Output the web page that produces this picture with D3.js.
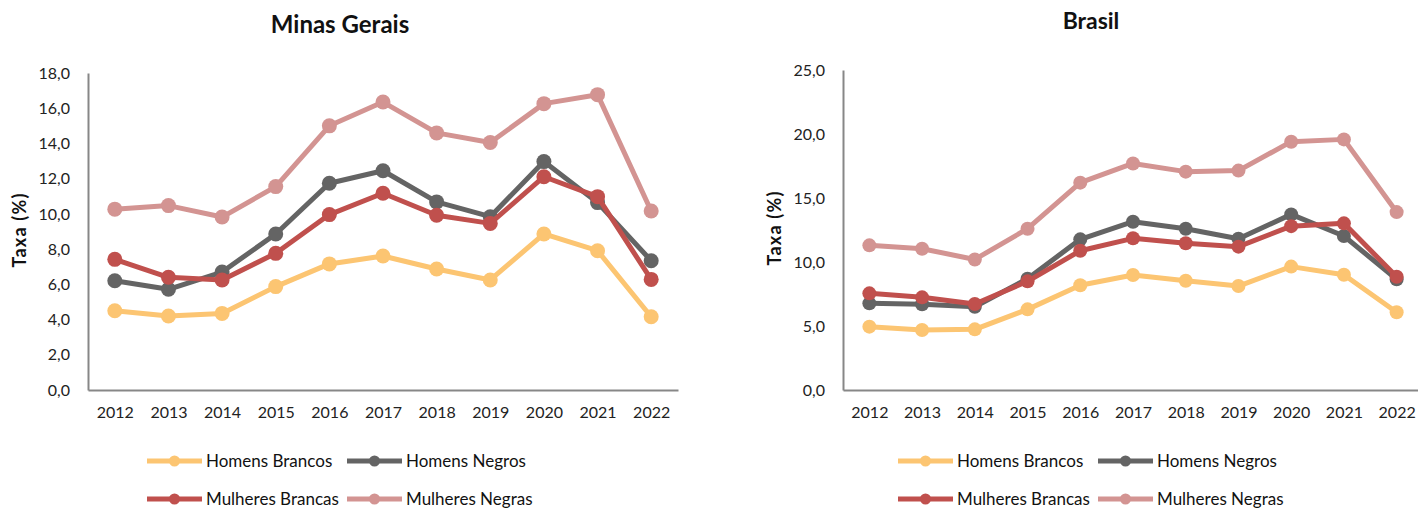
<!DOCTYPE html>
<html>
<head>
<meta charset="utf-8">
<script src="https://cdn.jsdelivr.net/npm/d3@7"></script>
<style>
body{margin:0;background:#fff;font-family:Lato,"Liberation Sans",sans-serif;}
.tick text{font-family:Lato,"Liberation Sans",sans-serif;fill:#222;}
</style>
</head>
<body>
<svg id="chart" width="1418" height="509"></svg>
<script>
//categories and series values
var years = ["2012","2013","2014","2015","2016","2017","2018","2019","2020","2021","2022"];
var seriesNames = ["Homens Brancos","Homens Negros","Mulheres Brancas","Mulheres Negras"];
var seriesColors = ["#fcc572","#646464","#c0504d","#d39492"];

var mgHomensBrancos = [4.5,4.2,4.35,5.87,7.16,7.61,6.87,6.25,8.86,7.91,4.16];
var mgHomensNegros = [6.2,5.72,6.7,8.86,11.74,12.45,10.68,9.84,12.97,10.64,7.34];
var mgMulheresBrancas = [7.42,6.4,6.25,7.76,9.96,11.17,9.92,9.46,12.11,10.98,6.28];
var mgMulheresNegras = [10.27,10.47,9.82,11.55,15.0,16.35,14.6,14.05,16.26,16.77,10.16];

var brHomensBrancos = [4.95,4.69,4.74,6.3,8.18,8.98,8.54,8.12,9.64,9.0,6.07];
var brHomensNegros = [6.77,6.7,6.5,8.7,11.77,13.15,12.6,11.82,13.72,12.03,8.65];
var brMulheresBrancas = [7.55,7.24,6.72,8.49,10.88,11.85,11.46,11.2,12.8,13.02,8.85];
var brMulheresNegras = [11.3,11.04,10.2,12.6,16.2,17.7,17.06,17.14,19.4,19.58,13.9];

var mgTicks = [0,2,4,6,8,10,12,14,16,18];
var brTicks = [0,5,10,15,20,25];

var svg = d3.select("#chart");
var fmt = function(d){ return d3.format(".1f")(d).replace(".", ","); };

//draws one panel: axes, title, series and legend
var drawPanel = function(opt){
    var g = svg.append("g");

    var x = d3.scalePoint()
        .domain(years)
        .range([opt.left, opt.right])
        .padding(0.5);

    var y = d3.scaleLinear()
        .domain([0, opt.max])
        .range([opt.bottom, opt.top]);

    //title
    g.append("text")
        .attr("x", opt.titleX)
        .attr("y", opt.titleY)
        .attr("text-anchor","middle")
        .style("font-weight","bold")
        .style("font-size", opt.titleSize + "px")
        .style("fill","#111")
        .text(opt.title);

    //y axis
    var yAxis = g.append("g")
        .attr("transform","translate(" + opt.left + ",0)")
        .call(d3.axisLeft(y).tickValues(opt.ticks).tickFormat(fmt).tickSize(0).tickPadding(18));
    yAxis.select(".domain").attr("stroke","#878787").attr("stroke-width",2);
    yAxis.selectAll("text").style("font-size","16px");

    //x axis
    var xAxis = g.append("g")
        .attr("transform","translate(0," + opt.bottom + ")")
        .call(d3.axisBottom(x).tickSize(0).tickPadding(17));
    xAxis.select(".domain").attr("stroke","#878787").attr("stroke-width",2);
    xAxis.selectAll("text").style("font-size","16px");

    //y axis title
    g.append("text")
        .attr("transform","translate(" + opt.labelX + "," + opt.labelY + ") rotate(-90)")
        .attr("text-anchor","middle")
        .style("font-weight","bold")
        .style("font-size","18px")
        .style("letter-spacing","1.2px")
        .style("fill","#111")
        .text("Taxa (%)");

    var line = d3.line()
        .x(function(d,i){ return x(years[i]); })
        .y(function(d){ return y(d); });

    //series lines with markers
    opt.series.forEach(function(vals, k){
        var s = g.append("g");
        s.append("path")
            .datum(vals)
            .attr("d", line)
            .attr("fill","none")
            .attr("stroke", seriesColors[k])
            .attr("stroke-width",5)
            .attr("stroke-linejoin","round");
        s.selectAll("circle")
            .data(vals)
            .enter()
            .append("circle")
            .attr("cx", function(d,i){ return x(years[i]); })
            .attr("cy", function(d){ return y(d); })
            .attr("r", opt.r)
            .attr("fill", seriesColors[k]);
    });

    //legend, two rows of two
    seriesNames.forEach(function(name, k){
        var lx = opt.legendX + (k % 2) * 200;
        var ly = k < 2 ? 461 : 499;
        var item = g.append("g");
        item.append("line")
            .attr("x1", lx).attr("x2", lx + 55)
            .attr("y1", ly).attr("y2", ly)
            .attr("stroke", seriesColors[k])
            .attr("stroke-width",5);
        item.append("circle")
            .attr("cx", lx + 27.5)
            .attr("cy", ly)
            .attr("r",5.5)
            .attr("fill", seriesColors[k]);
        item.append("text")
            .attr("x", lx + 59)
            .attr("y", ly + 5.5)
            .style("font-size","17px")
            .style("fill","#111")
            .text(name);
    });
};

drawPanel({
    title:"Minas Gerais", titleX:340, titleY:33, titleSize:24,
    left:88, right:678, top:73, bottom:390, max:18, ticks:mgTicks,
    labelX:26, labelY:230, r:7.5, legendX:147,
    series:[mgHomensBrancos, mgHomensNegros, mgMulheresBrancas, mgMulheresNegras]
});

drawPanel({
    title:"Brasil", titleX:1091, titleY:29, titleSize:23,
    left:843, right:1423, top:70, bottom:390, max:25, ticks:brTicks,
    labelX:781, labelY:228, r:7, legendX:898,
    series:[brHomensBrancos, brHomensNegros, brMulheresBrancas, brMulheresNegras]
});
</script>
</body>
</html>
